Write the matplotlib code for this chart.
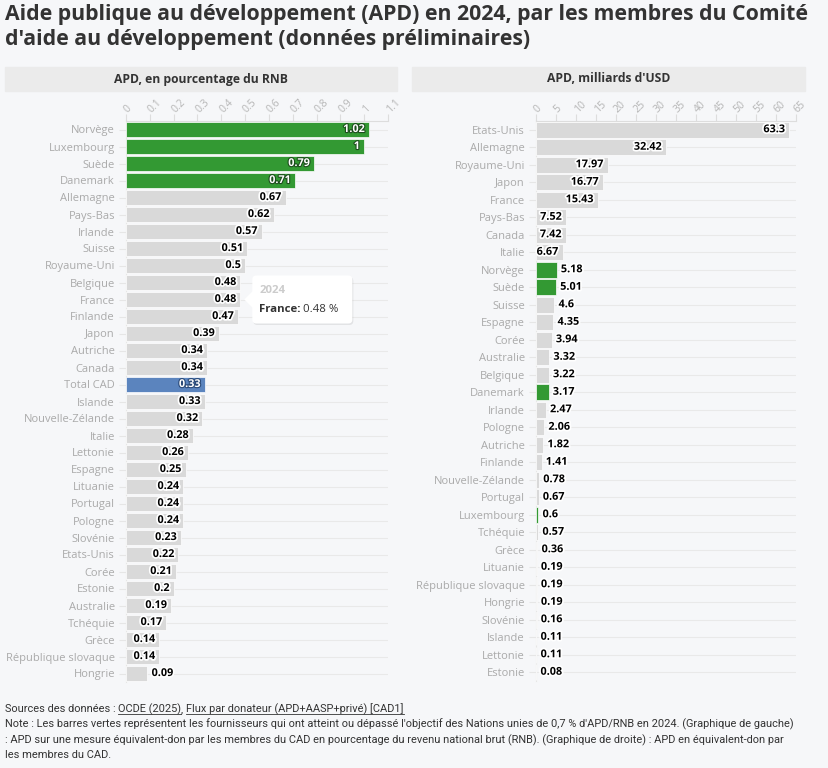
import matplotlib
matplotlib.use("Agg")
import matplotlib.pyplot as plt
import matplotlib.patheffects as pe
from matplotlib.patches import Rectangle, FancyBboxPatch, Polygon
from matplotlib.transforms import IdentityTransform

plt.rcParams['font.family'] = ['Open Sans', 'DejaVu Sans']

# --- data ---
left_countries = ["Norvège", "Luxembourg", "Suède", "Danemark", "Allemagne", "Pays-Bas",
                  "Irlande", "Suisse", "Royaume-Uni", "Belgique", "France", "Finlande",
                  "Japon", "Autriche", "Canada", "Total CAD", "Islande", "Nouvelle-Zélande",
                  "Italie", "Lettonie", "Espagne", "Lituanie", "Portugal", "Pologne",
                  "Slovénie", "Etats-Unis", "Corée", "Estonie", "Australie", "Tchéquie",
                  "Grèce", "République slovaque", "Hongrie"]
left_values = [1.02, 1, 0.79, 0.71, 0.67, 0.62, 0.57, 0.51, 0.5, 0.48, 0.48, 0.47,
               0.39, 0.34, 0.34, 0.33, 0.33, 0.32, 0.28, 0.26, 0.25, 0.24, 0.24, 0.24,
               0.23, 0.22, 0.21, 0.2, 0.19, 0.17, 0.14, 0.14, 0.09]
left_ticks = [0, 0.1, 0.2, 0.3, 0.4, 0.5, 0.6, 0.7, 0.8, 0.9, 1, 1.1]

right_countries = ["Etats-Unis", "Allemagne", "Royaume-Uni", "Japon", "France", "Pays-Bas",
                   "Canada", "Italie", "Norvège", "Suède", "Suisse", "Espagne", "Corée",
                   "Australie", "Belgique", "Danemark", "Irlande", "Pologne", "Autriche",
                   "Finlande", "Nouvelle-Zélande", "Portugal", "Luxembourg", "Tchéquie",
                   "Grèce", "Lituanie", "République slovaque", "Hongrie", "Slovénie",
                   "Islande", "Lettonie", "Estonie"]
right_values = [63.3, 32.42, 17.97, 16.77, 15.43, 7.52, 7.42, 6.67, 5.18, 5.01, 4.6, 4.35,
                3.94, 3.32, 3.22, 3.17, 2.47, 2.06, 1.82, 1.41, 0.78, 0.67, 0.6, 0.57,
                0.36, 0.19, 0.19, 0.19, 0.16, 0.11, 0.11, 0.08]
right_ticks = list(range(0, 70, 5))

target = 0.7
total_label = "Total CAD"
tooltip_country = "France"

GREEN = "#339933"
BLUE = "#5b84be"
GRAY = "#d9d9d9"
BG = "#f6f7f9"

W, H = 829, 768
fig = plt.figure(figsize=(W / 100, H / 100), dpi=100, facecolor=BG)


def fx(px):
    return px / W


def fy(py):
    return 1 - py / H


# reached the 0.7 % target
green_set = {c for c, v in zip(left_countries, left_values) if v >= target}
left_colors = [BLUE if c == total_label else (GREEN if c in green_set else GRAY)
               for c in left_countries]
right_colors = [GREEN if c in green_set else GRAY for c in right_countries]


def panel(x0, x1, y0, y1, countries, values, colors, ticks, xmax, fmt):
    ax = fig.add_axes([fx(x0), fy(y1), fx(x1) - fx(x0), (y1 - y0) / H])
    ax.set_facecolor(BG)
    n = len(countries)
    pos = list(range(n))
    ax.barh(pos, values, color=colors, height=0.9, edgecolor="white", linewidth=0.5, zorder=3)
    ax.set_xlim(0, xmax)
    ax.set_ylim(n - 0.5, -0.5)
    ax.set_yticks(pos)
    ax.set_yticklabels(countries, fontsize=8, color="#aaaaaa")
    ax.tick_params(axis="y", length=5, color="#e6e6e6", pad=3)
    for p in pos:
        ax.axhline(p, color="#e9e9e9", lw=0.8, zorder=0)
    ax.xaxis.tick_top()
    ax.set_xticks(ticks)
    ax.set_xticklabels([fmt(t) for t in ticks], fontsize=7.5, color="#b5b5b5")
    ax.tick_params(axis="x", length=5, color="#dddddd", pad=2)
    for lab in ax.get_xticklabels():
        lab.set_rotation(45)
        lab.set_ha("left")
        lab.set_va("center")
        lab.set_rotation_mode("anchor")
    for s in ["right", "bottom"]:
        ax.spines[s].set_visible(False)
    ax.spines["top"].set_color("#dddddd")
    ax.spines["left"].set_color("#e6e6e6")
    ax.spines["left"].set_zorder(1)

    px_per_unit = (x1 - x0) / xmax
    for p, v, c in zip(pos, values, colors):
        txt = f"{v:g}"
        inside = v * px_per_unit >= 5.6 * len(txt) + 4
        if inside and c != GRAY:
            color = "white"
            stroke = "#1d4d1d" if c == GREEN else "#2b4a78"
            sw = 1.6
        else:
            color = "black"
            stroke = "white"
            sw = 2.5
        ax.annotate(txt, (v, p), xytext=(-3 if inside else 3, 0), textcoords="offset points",
                    ha="right" if inside else "left", va="center", fontsize=7.8,
                    fontweight="bold", color=color, zorder=4,
                    path_effects=[pe.withStroke(linewidth=sw, foreground=stroke)])
    return ax


ax1 = panel(126, 388, 121, 682, left_countries, left_values, left_colors,
            left_ticks, 1.1, lambda t: f"{t:g}")
ax2 = panel(536, 796, 121, 681, right_countries, right_values, right_colors,
            right_ticks, 65, lambda t: f"{t:g}")

# panel headers
for x0, x1, label in [(5, 397, "APD, en pourcentage du RNB"), (412, 805, "APD, milliards d'USD")]:
    fig.patches.append(Rectangle((fx(x0), fy(91)), fx(x1) - fx(x0), 24 / H,
                                 transform=fig.transFigure, color="#ebebeb", zorder=0))
    fig.text(fx((x0 + x1) / 2), fy(79), label, ha="center", va="center",
             fontsize=8.7, fontweight="bold", color="#333333")

# title
fig.text(fx(5), fy(4), "Aide publique au développement (APD) en 2024, par les membres du Comité\n"
         "d'aide au développement (données préliminaires)",
         ha="left", va="top", fontsize=15.3, fontweight="bold", color="#333333",
         linespacing=1.25)

# tooltip on France
fi = left_countries.index(tooltip_country)
axp, ayp = ax1.transData.transform((left_values[fi], fi))
tip_x = axp + 4
bx0, bw, bh = tip_x + 8, 100, 48
by0 = ayp - bh / 2
idt = IdentityTransform()
fig.patches.append(FancyBboxPatch((bx0 + 1, by0 - 1.5), bw, bh, boxstyle="round,pad=0,rounding_size=4",
                                  transform=idt, facecolor="#000000", alpha=0.08, edgecolor="none",
                                  zorder=5))
fig.patches.append(FancyBboxPatch((bx0, by0), bw, bh, boxstyle="round,pad=0,rounding_size=4",
                                  transform=idt, facecolor="white", edgecolor="none", zorder=6))
fig.patches.append(Polygon([(tip_x, ayp), (bx0 + 1, ayp + 9), (bx0 + 1, ayp - 9)],
                           closed=True, transform=idt, facecolor="white", edgecolor="none",
                           zorder=6))
fig.text(bx0 + 7, ayp + 9, "2024", transform=idt, fontsize=8.2, fontweight="bold",
         color="#cccccc", va="center", ha="left", zorder=7)
t1 = fig.text(bx0 + 7, ayp - 10, tooltip_country + ":", transform=idt, fontsize=8.2,
              fontweight="bold", color="#333333", va="center", ha="left", zorder=7)
renderer = fig.canvas.get_renderer()
e = t1.get_window_extent(renderer)
fig.text(e.x1 + 2, ayp - 10, f"{left_values[fi]:g} %", transform=idt, fontsize=8.2,
         color="#333333", va="center", ha="left", zorder=7)

# footer
foot_size = 7.9
foot_font = ["Roboto", "DejaVu Sans"]
parts = [("Sources des données : ", False), ("OCDE (2025)", True), (", ", False),
         ("Flux par donateur (APD+AASP+privé) [CAD1]", True)]
xcur = 5
ybase = H - 712
for txt, ul in parts:
    t = fig.text(xcur, ybase, txt, transform=idt, fontsize=foot_size, color="#333333",
                 ha="left", va="baseline", family=foot_font)
    ext = t.get_window_extent(renderer)
    if ul:
        fig.lines.append(plt.Line2D([ext.x0, ext.x1], [ybase - 2, ybase - 2], transform=idt,
                                    color="#333333", lw=0.6))
    xcur = ext.x1
note_lines = [
    "Note : Les barres vertes représentent les fournisseurs qui ont atteint ou dépassé l'objectif "
    "des Nations unies de 0,7 % d'APD/RNB en 2024. (Graphique de gauche)",
    ": APD sur une mesure équivalent-don par les membres du CAD en pourcentage du revenu national "
    "brut (RNB). (Graphique de droite) : APD en équivalent-don par",
    "les membres du CAD.",
]
for k, line in enumerate(note_lines):
    fig.text(5, ybase - 15.5 * (k + 1), line, transform=idt, fontsize=foot_size,
             color="#333333", ha="left", va="baseline", family=foot_font)

fig.savefig("out.png", dpi=100, facecolor=BG)
